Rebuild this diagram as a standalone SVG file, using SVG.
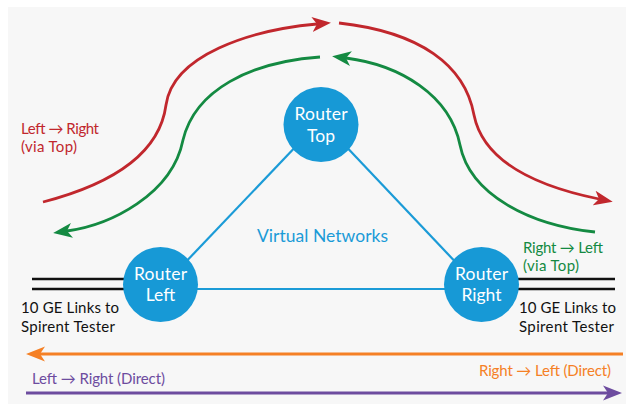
<svg xmlns="http://www.w3.org/2000/svg" width="626" height="404" viewBox="0 0 626 404">
<defs>
<style>
.bg{fill:#f7f7f7}
.flow{fill:none;stroke-width:2.8}
.red{stroke:#c1272d}
.green{stroke:#148a42}
.orange{stroke:#f58025}
.purple{stroke:#6d4c9f}
.net{stroke:#1b9bd7;stroke-width:2.2;fill:none}
.link{stroke:#111;stroke-width:2.6}
.node{fill:#1799d6}
.lbl{font-family:Lato,"Open Sans",sans-serif;font-size:17.5px;fill:#fff;text-anchor:middle}
.t{font-family:Lato,"Open Sans",sans-serif;font-size:15px}
</style>
<marker id="mr" markerUnits="userSpaceOnUse" markerWidth="20" markerHeight="16" viewBox="0 -8 20 16" refX="5" refY="0" orient="auto"><path d="M0,-7.5 L19,0 L0,7.5 L5,0 Z" fill="#c1272d"/></marker>
<marker id="mg" markerUnits="userSpaceOnUse" markerWidth="20" markerHeight="16" viewBox="0 -8 20 16" refX="5" refY="0" orient="auto"><path d="M0,-7.5 L19,0 L0,7.5 L5,0 Z" fill="#148a42"/></marker>
<marker id="mo" markerUnits="userSpaceOnUse" markerWidth="20" markerHeight="16" viewBox="0 -8 20 16" refX="5" refY="0" orient="auto"><path d="M0,-7.5 L19,0 L0,7.5 L5,0 Z" fill="#f58025"/></marker>
<marker id="mp" markerUnits="userSpaceOnUse" markerWidth="20" markerHeight="16" viewBox="0 -8 20 16" refX="5" refY="0" orient="auto"><path d="M0,-7.5 L19,0 L0,7.5 L5,0 Z" fill="#6d4c9f"/></marker>
</defs>
<rect class="bg" x="8" y="7" width="618" height="397"/>
<g id="connectors">
<line class="net" x1="160" y1="289" x2="321" y2="120"/>
<line class="net" x1="481" y1="289" x2="321" y2="120"/>
<line class="net" x1="160" y1="289" x2="481" y2="289"/>
<line class="link" x1="32" y1="279" x2="130" y2="279"/>
<line class="link" x1="32" y1="289" x2="130" y2="289"/>
<line class="link" x1="512" y1="279" x2="615" y2="279"/>
<line class="link" x1="512" y1="289" x2="615" y2="289"/>
<path class="flow red" d="M43,202 C120,182 160,150 166,105 C173,55 250,30 317,24" marker-end="url(#mr)"/>
<path class="flow red" d="M339,23 C420,32 465,65 474,115 C485,170 555,190 599,199" marker-end="url(#mr)"/>
<path class="flow green" d="M595,232 C530,225 470,195 460,145 C450,95 400,65 346,58" marker-end="url(#mg)"/>
<path class="flow green" d="M320,57 C250,62 195,90 183,140 C172,195 110,225 67,231" marker-end="url(#mg)"/>
<line class="flow orange" x1="623" y1="354" x2="40" y2="354" marker-end="url(#mo)"/>
<line class="flow purple" x1="26" y1="393" x2="608" y2="393" marker-end="url(#mp)"/>
</g>
<g id="router-top">
<circle class="node" cx="321" cy="124.5" r="37.5"/>
<text class="lbl" x="321" y="120" textLength="53">Router</text>
<text class="lbl" x="321" y="141.5">Top</text>
</g>
<g id="router-left">
<circle class="node" cx="160.5" cy="284.5" r="37.5"/>
<text class="lbl" x="160.5" y="279.5" textLength="53">Router</text>
<text class="lbl" x="160.5" y="300.5">Left</text>
</g>
<g id="router-right">
<circle class="node" cx="481.5" cy="284.5" r="37.5"/>
<text class="lbl" x="481.5" y="279.5" textLength="53">Router</text>
<text class="lbl" x="481.5" y="300.5">Right</text>
</g>
<g id="labels">
<text class="t" x="21" y="134" fill="#c1272d" textLength="78">Left → Right</text>
<text class="t" x="21" y="152" fill="#c1272d" textLength="56">(via Top)</text>
<text class="t" x="523" y="253" fill="#148a42" textLength="80">Right → Left</text>
<text class="t" x="523" y="271" fill="#148a42" textLength="56">(via Top)</text>
<text class="t" x="21" y="313" fill="#111" textLength="98">10 GE Links to</text>
<text class="t" x="21" y="332" fill="#111" textLength="94">Spirent Tester</text>
<text class="t" x="519" y="313" fill="#111" textLength="97">10 GE Links to</text>
<text class="t" x="519" y="332" fill="#111" textLength="95">Spirent Tester</text>
<text x="257" y="242" textLength="131" style="font-family:Lato,'Open Sans',sans-serif;font-size:17.5px;fill:#1b9bd7">Virtual Networks</text>
<text class="t" x="479" y="376" fill="#f58025" textLength="132">Right → Left (Direct)</text>
<text class="t" x="32" y="384" fill="#6d4c9f" textLength="133">Left → Right (Direct)</text>
</g>
</svg>
